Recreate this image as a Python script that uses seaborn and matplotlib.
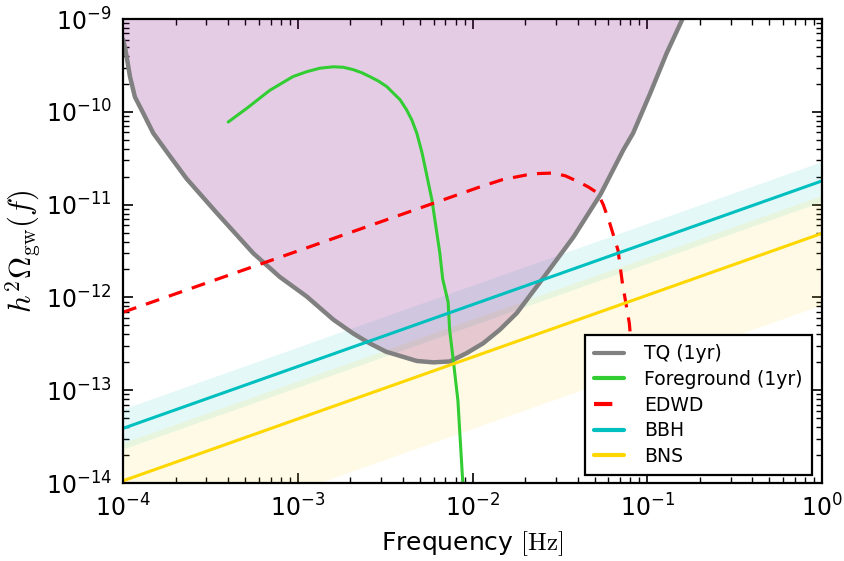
import numpy as np
import pandas as pd
import matplotlib
matplotlib.use("Agg")
import matplotlib.pyplot as plt
import seaborn as sns

# ---------------- data ----------------
tq_f = [1.0e-4, 1.03e-4, 1.05e-4, 1.096e-4, 1.17e-4, 1.31e-4, 1.49e-4, 1.86e-4,
        2.31e-4, 3.44e-4, 5.57e-4, 7.9e-4, 1.125e-3, 1.6e-3, 2.08e-3, 2.58e-3,
        3.2e-3, 4.0e-3, 4.8e-3, 5.97e-3, 7.43e-3, 9.27e-3, 1.15e-2, 1.43e-2,
        1.79e-2, 2.54e-2, 3.78e-2, 5.4e-2, 7.3e-2, 8.3e-2, 1.04e-1, 1.29e-1,
        1.6e-1, 1.8e-1]
tq_log = [-9.22, -9.32, -9.41, -9.62, -9.84, -10.02, -10.23, -10.48,
          -10.72, -11.09, -11.525, -11.78, -11.99, -12.24, -12.39, -12.495,
          -12.585, -12.64, -12.685, -12.70, -12.69, -12.60, -12.495, -12.35,
          -12.17, -11.79, -11.35, -10.89, -10.41, -10.23, -9.80, -9.37,
          -8.99, -8.75]

fg_f = [4.0e-4, 5.13e-4, 6.9e-4, 9.4e-4, 1.125e-3, 1.34e-3, 1.6e-3, 1.82e-3,
        2.07e-3, 2.32e-3, 2.58e-3, 2.89e-3, 3.24e-3, 3.53e-3, 3.85e-3, 4.2e-3,
        4.5e-3, 4.8e-3, 5.14e-3, 5.47e-3, 5.86e-3, 6.5e-3, 6.75e-3, 7.25e-3,
        7.4e-3, 7.8e-3, 8.25e-3, 8.8e-3, 9.2e-3]
fg_log = [-10.11, -9.96, -9.77, -9.62, -9.568, -9.53, -9.515, -9.52,
          -9.545, -9.578, -9.62, -9.668, -9.73, -9.80, -9.87, -9.98,
          -10.09, -10.23, -10.44, -10.68, -10.95, -11.52, -11.80, -12.05,
          -12.35, -12.71, -13.11, -14.0, -14.4]

ed_f = [1.0e-4, 1.0e-3, 1.1e-2, 1.49e-2, 1.8e-2, 2.04e-2, 2.4e-2, 2.9e-2,
        3.4e-2, 4.1e-2, 4.6e-2, 5.2e-2, 5.6e-2, 6.1e-2, 6.8e-2, 7.2e-2,
        7.9e-2, 8.5e-2]
ed_log = [-12.16, -11.50, -10.81, -10.73, -10.70, -10.68, -10.665, -10.66,
          -10.69, -10.76, -10.81, -10.875, -11.0, -11.20, -11.49, -11.84,
          -12.28, -13.0]

f_grid = [1e-4, 1e-3, 1e-2, 1e-1, 1.0]
bbh_amp = 1.8e-11      # h^2 Omega at 1 Hz
bns_amp = 4.9e-12
slope = 2.0 / 3.0
bbh_band = (0.60, 1.62)  # lower / upper factors
bns_band = (0.17, 2.57)

# ---------------- derived tables ----------------
tq = pd.DataFrame({"f": tq_f, "h": 10.0 ** np.array(tq_log)})
fg = pd.DataFrame({"f": fg_f, "h": 10.0 ** np.array(fg_log)})
ed = pd.DataFrame({"f": ed_f, "h": 10.0 ** np.array(ed_log)})
fg_arr = np.array(f_grid)
bbh = pd.DataFrame({"f": fg_arr, "h": bbh_amp * fg_arr ** slope})
bns = pd.DataFrame({"f": fg_arr, "h": bns_amp * fg_arr ** slope})

# ---------------- figure ----------------
sns.set_style("ticks", {"xtick.direction": "in", "ytick.direction": "in"})
plt.rcParams["font.family"] = ["DejaVu Sans"]
plt.rcParams["text.color"] = "black"
plt.rcParams["axes.labelcolor"] = "black"
plt.rcParams["xtick.color"] = "black"
plt.rcParams["ytick.color"] = "black"
plt.rcParams["axes.unicode_minus"] = False

fig = plt.figure(figsize=(8.44, 5.61), dpi=100)
ax = fig.add_axes([123 / 844, 1 - 483 / 561, (822 - 123) / 844, (483 - 19) / 561])
ax.set_xscale("log")
ax.set_yscale("log")

# bands
ax.fill_between(bbh["f"], bbh["h"] * bbh_band[0], bbh["h"] * bbh_band[1],
                color="c", alpha=0.1, lw=0)
ax.fill_between(bns["f"], bns["h"] * bns_band[0], bns["h"] * bns_band[1],
                color="gold", alpha=0.1, lw=0)
# sensitivity region
ax.fill_between(tq["f"], tq["h"], 1e-8, color="purple", alpha=0.2, lw=0)

sns.lineplot(data=tq, x="f", y="h", ax=ax, color="gray", lw=3.2,
             label="TQ (1yr)", estimator=None, sort=False)
sns.lineplot(data=fg, x="f", y="h", ax=ax, color="limegreen", lw=2.2,
             label="Foreground (1yr)", estimator=None, sort=False)
sns.lineplot(data=ed, x="f", y="h", ax=ax, color="red", lw=2.3,
             label="EDWD", estimator=None, sort=False, dashes=False)
ax.get_lines()[-1].set_dashes((4.4, 3.2))
sns.lineplot(data=bbh, x="f", y="h", ax=ax, color="c", lw=2.2,
             label="BBH", estimator=None, sort=False)
sns.lineplot(data=bns, x="f", y="h", ax=ax, color="gold", lw=2.2,
             label="BNS", estimator=None, sort=False)

ax.set_xlim(1e-4, 1)
ax.set_ylim(1e-14, 1e-9)

ax.tick_params(which="both", direction="in", top=True, right=True,
               labelsize=17, pad=8)
ax.tick_params(which="major", length=7, width=1.2)
ax.tick_params(which="minor", length=4, width=1.0)
for s in ax.spines.values():
    s.set_linewidth(1.6)
    s.set_color("black")

ax.set_xlabel(r"Frequency $[\mathrm{Hz}]$", fontsize=18, math_fontfamily="cm",
              labelpad=6)
ax.set_ylabel(r"$h^2\Omega_{\rm gw}(f)$", fontsize=22, math_fontfamily="cm",
              labelpad=2)

leg = ax.legend(loc="lower right", fontsize=13.5, frameon=True, fancybox=False,
                framealpha=1, edgecolor="black", borderpad=0.5,
                borderaxespad=0, handlelength=1.6, handletextpad=1.05,
                labelspacing=0.35, bbox_to_anchor=(0.9857, 0.017))
leg.get_frame().set_linewidth(1.6)
for line in leg.get_lines():
    line.set_linewidth(3)

fig.savefig("out.png", dpi=100)
